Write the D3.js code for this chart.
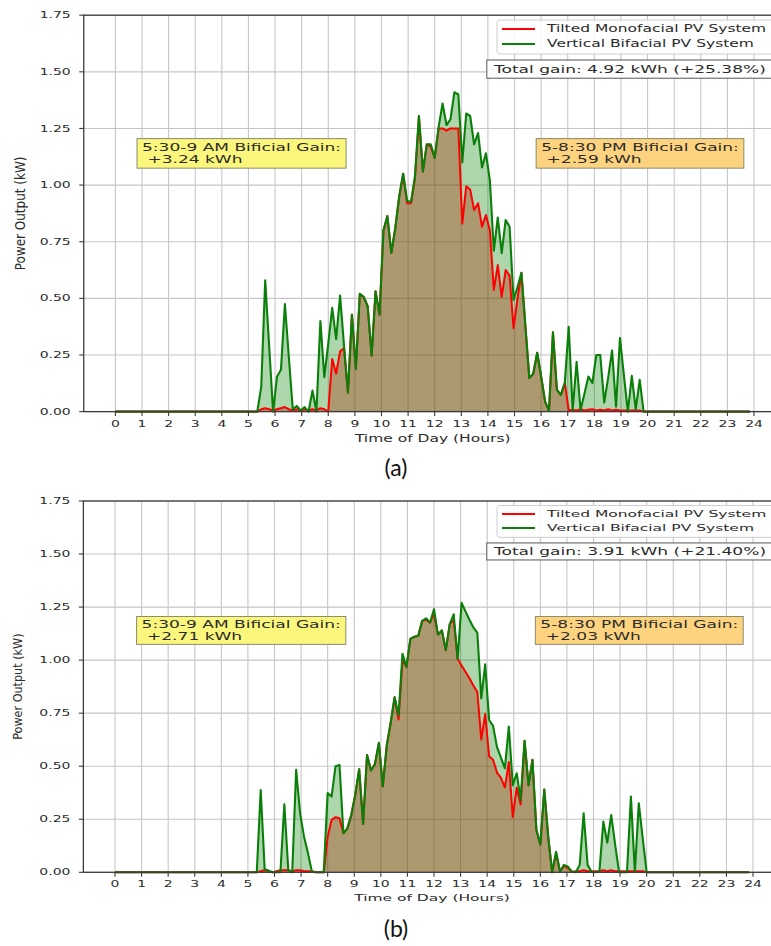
<!DOCTYPE html>
<html>
<head>
<meta charset="utf-8">
<script src="https://cdn.jsdelivr.net/npm/d3@7"></script>
<style>
  body { margin: 0; background: #fff; }
  svg { display: block; }
  text { white-space: pre; }
</style>
</head>
<body>
<svg id="chart" width="771" height="946"></svg>
<script>
// ---- data -------------------------------------------------------------
// Samples every 24/162 h; arrays start at sample 36 (about 5:20) and run to sample 136.
const stepHours = 24 / 162;
const firstSample = 36;
const lastSample = 161;

const hourTicks = [0, 1, 2, 3, 4, 5, 6, 7, 8, 9, 10, 11, 12, 13, 14, 15, 16, 17, 18, 19, 20, 21, 22, 23, 24];
const powerTicks = [0, 0.25, 0.5, 0.75, 1.0, 1.25, 1.5, 1.75];
const powerTickLabels = ["0.00", "0.25", "0.50", "0.75", "1.00", "1.25", "1.50", "1.75"];
const seriesNames = ["Tilted Monofacial PV System", "Vertical Bifacial PV System"];

// Day (a)
const monofacialA = [
  0, 0.01, 0.015, 0.01, 0.005, 0.01, 0.015, 0.02, 0.01, 0.005,
  0.01, 0.005, 0.01, 0.005, 0.01, 0.005, 0.015, 0.01, 0.0, 0.232,
  0.167, 0.266, 0.28, 0.084, 0.428, 0.188, 0.52, 0.506, 0.465, 0.247,
  0.531, 0.428, 0.80, 0.863, 0.70, 0.81, 0.95, 1.05, 0.92, 0.92,
  1.03, 1.305, 1.06, 1.18, 1.17, 1.12, 1.25, 1.25, 1.24, 1.25,
  1.25, 1.25, 0.83, 0.995, 0.98, 0.89, 0.92, 0.816, 0.868, 0.80,
  0.537, 0.647, 0.507, 0.625, 0.60, 0.368, 0.50, 0.613, 0.38, 0.148,
  0.167, 0.26, 0.155, 0.044, 0.003, 0.35, 0.096, 0.074, 0.126, 0.005,
  0.008, 0.005, 0.01, 0.005, 0.008, 0.01, 0.005, 0.008, 0.005, 0.01,
  0.005, 0.008, 0.005, 0.005, 0.005, 0.005, 0.005, 0.005, 0.0, 0,
  0
];
const bifacialA = [
  0, 0.11, 0.58, 0.29, 0, 0.155, 0.185, 0.475, 0.24, 0.01,
  0.025, 0.005, 0.02, 0, 0.093, 0, 0.40, 0.152, 0.30, 0.458,
  0.32, 0.512, 0.29, 0.084, 0.428, 0.188, 0.52, 0.506, 0.465, 0.247,
  0.531, 0.428, 0.80, 0.863, 0.70, 0.81, 0.95, 1.05, 0.93, 0.926,
  1.04, 1.305, 1.06, 1.18, 1.18, 1.12, 1.257, 1.36, 1.265, 1.29,
  1.41, 1.40, 1.10, 1.316, 1.305, 1.18, 1.23, 1.078, 1.14, 1.02,
  0.71, 0.857, 0.70, 0.846, 0.816, 0.493, 0.55, 0.613, 0.38, 0.148,
  0.167, 0.26, 0.155, 0.044, 0.003, 0.35, 0.096, 0.074, 0.126, 0.374,
  0.007, 0.22, 0.007, 0.08, 0.155, 0.126, 0.25, 0.25, 0.04, 0.15,
  0.27, 0.022, 0.325, 0.16, 0, 0.158, 0.01, 0.14, 0, 0,
  0
];

// Day (b)
const monofacialB = [
  0, 0.005, 0.01, 0.005, 0.0, 0.005, 0.01, 0.01, 0.01, 0.005,
  0.01, 0.01, 0.005, 0.005, 0.005, 0.0, 0, 0, 0.168, 0.247,
  0.26, 0.255, 0.184, 0.207, 0.27, 0.365, 0.486, 0.228, 0.553, 0.48,
  0.51, 0.61, 0.405, 0.597, 0.705, 0.825, 0.72, 1.0, 0.967, 1.10,
  1.11, 1.115, 1.185, 1.19, 1.177, 1.22, 1.12, 1.14, 1.047, 1.17,
  1.19, 1.006, 0.975, 0.945, 0.915, 0.88, 0.85, 0.625, 0.746, 0.547,
  0.53, 0.47, 0.445, 0.40, 0.52, 0.26, 0.40, 0.32, 0.62, 0.41,
  0.53, 0.2, 0.13, 0.39, 0.168, 0, 0.09, 0.003, 0.03, 0.02,
  0.003, 0.005, 0.005, 0.01, 0.005, 0.005, 0.005, 0.005, 0.01, 0.005,
  0.01, 0.005, 0.005, 0.005, 0.005, 0.005, 0.005, 0.005, 0.005, 0,
  0
];
const bifacialB = [
  0, 0.388, 0.014, 0.008, 0, 0, 0, 0.32, 0.01, 0,
  0.483, 0.278, 0.168, 0.09, 0.003, 0, 0, 0, 0.373, 0.357,
  0.50, 0.506, 0.184, 0.207, 0.27, 0.365, 0.486, 0.228, 0.553, 0.48,
  0.51, 0.61, 0.405, 0.597, 0.705, 0.825, 0.74, 1.03, 0.967, 1.10,
  1.11, 1.115, 1.185, 1.197, 1.177, 1.24, 1.12, 1.14, 1.047, 1.17,
  1.216, 1.006, 1.27, 1.23, 1.19, 1.154, 1.13, 0.82, 0.98, 0.718,
  0.69, 0.59, 0.54, 0.49, 0.687, 0.41, 0.467, 0.34, 0.62, 0.41,
  0.53, 0.2, 0.13, 0.39, 0.168, 0, 0.097, 0.003, 0.035, 0.027,
  0.003, 0, 0.035, 0.278, 0.035, 0.003, 0, 0.003, 0.239, 0.14,
  0.27, 0.13, 0, 0, 0, 0.357, 0, 0.325, 0.16, 0,
  0
];

const morningGains = ["+3.24 kWh", "+2.71 kWh"];
const eveningGains = ["+2.59 kWh", "+2.03 kWh"];
const totalGains = ["Total gain: 4.92 kWh (+25.38%)", "Total gain: 3.91 kWh (+21.40%)"];
const captions = ["(a)", "(b)"];

// ---- layout -----------------------------------------------------------
const SX = 1.55;            // horizontal stretch of the figure's lettering
const FONT = '"DejaVu Sans", sans-serif';
const panels = [
  { mono: monofacialA, bi: bifacialA, top: 15.2, bottom: 411.6, x0: 115.4, x24: 754, sy: 1,
    captionY: 467, idx: 0 },
  { mono: monofacialB, bi: bifacialB, top: 501, bottom: 872.3, x0: 115, x24: 753, sy: 0.936,
    captionY: 928, idx: 1 }
];

const svg = d3.select("#chart");
svg.append("rect").attr("width", 771).attr("height", 946).attr("fill", "#fff");

function addText(parent, x, y, str, o = {}) {
  const sy = o.sy || 1;
  const sx = o.sx || SX;
  let tr = `translate(${x},${y}) scale(${sx},${sy})`;
  if (o.rotate) tr += ` rotate(${o.rotate})`;
  return parent.append("text")
    .attr("transform", tr)
    .attr("text-anchor", o.anchor || "start")
    .attr("dominant-baseline", "central")
    .attr("fill", o.fill || "#2b2b2b")
    .style("font-family", FONT)
    .style("font-size", (o.size || 10) + "px")
    .text(str);
}

function toPoints(values) {
  const pts = [{ t: 0, v: 0 }];
  values.forEach((v, i) => pts.push({ t: (firstSample + i) * stepHours, v }));
  pts.push({ t: lastSample * stepHours, v: 0 });
  return pts;
}

panels.forEach(p => {
  const x = d3.scaleLinear().domain([0, 24]).range([p.x0, p.x24]);
  const y = d3.scaleLinear().domain([0, 1.75]).range([p.bottom, p.top]);
  const left = x(-1.19), right = x(25.04);
  const g = svg.append("g");
  const k = p.sy;

  // grid
  g.append("g").selectAll("line.v").data(hourTicks).join("line")
    .attr("x1", d => x(d)).attr("x2", d => x(d))
    .attr("y1", p.top).attr("y2", p.bottom)
    .attr("stroke", "#c6c6c6").attr("stroke-width", 1.1);
  g.append("g").selectAll("line.h").data(powerTicks).join("line")
    .attr("x1", left).attr("x2", right)
    .attr("y1", d => y(d)).attr("y2", d => y(d))
    .attr("stroke", "#c6c6c6").attr("stroke-width", 1.1);

  // areas and lines
  const mono = toPoints(p.mono), bi = toPoints(p.bi);
  const area = d3.area().x(d => x(d.t)).y0(y(0)).y1(d => y(d.v));
  const line = d3.line().x(d => x(d.t)).y(d => y(d.v));
  g.append("path").datum(mono).attr("d", area).attr("fill", "#ff0000").attr("fill-opacity", 0.35);
  g.append("path").datum(bi).attr("d", area).attr("fill", "#008000").attr("fill-opacity", 0.32);
  g.append("path").datum(mono).attr("d", line).attr("fill", "none")
    .attr("stroke", "#ff0000").attr("stroke-width", 2).attr("stroke-linejoin", "round");
  g.append("path").datum(bi).attr("d", line).attr("fill", "none")
    .attr("stroke", "#0a800a").attr("stroke-width", 2.1).attr("stroke-linejoin", "round");

  // frame
  g.append("rect").attr("x", left).attr("y", p.top)
    .attr("width", right - left).attr("height", p.bottom - p.top)
    .attr("fill", "none").attr("stroke", "#3c3c3c").attr("stroke-width", 1.3);

  // ticks
  g.append("g").selectAll("line").data(powerTicks).join("line")
    .attr("x1", left - 4.5).attr("x2", left)
    .attr("y1", d => y(d)).attr("y2", d => y(d))
    .attr("stroke", "#3c3c3c").attr("stroke-width", 1.1);
  g.append("g").selectAll("line").data(hourTicks).join("line")
    .attr("x1", d => x(d)).attr("x2", d => x(d))
    .attr("y1", p.bottom).attr("y2", p.bottom + 4.5)
    .attr("stroke", "#3c3c3c").attr("stroke-width", 1.1);

  powerTicks.forEach((d, i) => addText(g, left - 13, y(d), powerTickLabels[i], { size: 9, anchor: "end", sy: k }));
  hourTicks.forEach(d => addText(g, x(d), p.bottom + 12.5 * k, String(d), { size: 9, anchor: "middle", sy: k }));

  addText(g, (left + right) / 2, p.bottom + 27 * k, "Time of Day (Hours)", { size: 10, anchor: "middle", sy: k });
  addText(g, 20 - p.idx * 2, (p.top + p.bottom) / 2, "Power Output (kW)",
    { size: 12 * k, anchor: "middle", sx: 1.15, sy: 1, rotate: -90 });

  // annotation boxes, anchored in data coordinates
  function noteBox(hx, kw, lines, face) {
    const gg = g.append("g");
    const rect = gg.append("rect");
    const lh = 12.3 * k;
    const ty = y(kw);
    lines.forEach((s, i) => addText(gg, x(hx), ty + (i - 0.5) * lh, s, { size: 11, sy: k }));
    const bb = gg.node().getBBox();
    rect.attr("x", bb.x - 5).attr("y", bb.y - 2.5 * k)
      .attr("width", bb.width + 10).attr("height", bb.height + 5 * k)
      .attr("fill", face).attr("stroke", "#8a8a70").attr("stroke-width", 1);
  }
  noteBox(1, 1.14, ["5:30-9 AM Bificial Gain:", " " + morningGains[p.idx]], "#fbf67c");
  noteBox(16, 1.14, ["5-8:30 PM Bificial Gain:", " " + eveningGains[p.idx]], "#fdd37f");

  // legend
  const lg = g.append("g");
  lg.append("rect").attr("x", 497).attr("y", p.top + 4.8 * k)
    .attr("width", right - 5 - 497).attr("height", 34 * k).attr("rx", 3)
    .attr("fill", "#fff").attr("fill-opacity", 0.85).attr("stroke", "#cfcfcf");
  [["#ff0000", 13.8], ["#0a800a", 28.8]].forEach(([c, dy], i) => {
    lg.append("line").attr("x1", 502).attr("x2", 535)
      .attr("y1", p.top + dy * k).attr("y2", p.top + dy * k)
      .attr("stroke", c).attr("stroke-width", 2);
    addText(lg, 547, p.top + dy * k, seriesNames[i], { size: 10, sy: k });
  });

  // total gain box
  const tg = g.append("g");
  const tRect = tg.append("rect");
  addText(tg, 494, p.top + 53.8 * k, totalGains[p.idx], { size: 11, sy: k });
  const tb = tg.node().getBBox();
  tRect.attr("x", tb.x - 6).attr("y", p.top + 44.8 * k)
    .attr("width", tb.width + 12).attr("height", 18.2 * k)
    .attr("fill", "#fff").attr("stroke", "#555").attr("stroke-width", 1);

  // panel caption
  svg.append("text").attr("x", 396).attr("y", p.captionY)
    .attr("text-anchor", "middle").attr("dominant-baseline", "central")
    .style("font-family", "Lato, 'Open Sans', sans-serif").style("font-size", "23px")
    .attr("fill", "#111").text(captions[p.idx]);
});
</script>
</body>
</html>
